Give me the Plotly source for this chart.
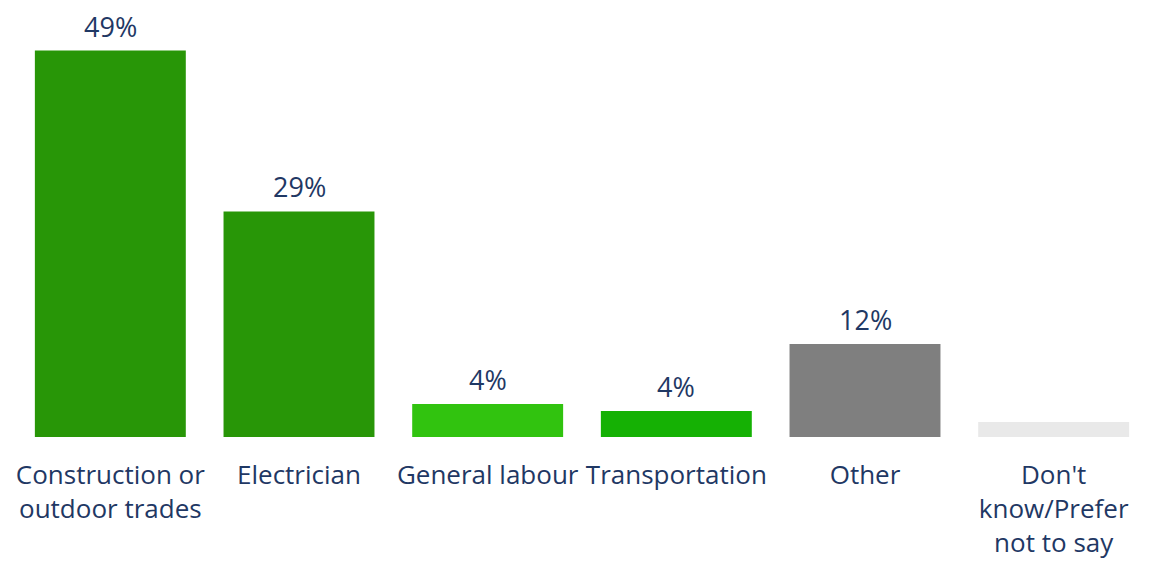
import plotly.graph_objects as go

categories = ["Construction or<br>outdoor trades", "Electrician", "General labour",
              "Transportation", "Other", "Don't<br>know/Prefer<br>not to say"]
values = [49, 28.6, 4.2, 3.3, 11.8, 1.9]
labels = ["49%", "29%", "4%", "4%", "12%", ""]
colors = ["#289607", "#289607", "#31C30F", "#15B104", "#7F7F7F", "#E9E9E9"]

navy = "#1F3864"
fig = go.Figure()
fig.add_trace(go.Bar(x=categories, y=values, marker=dict(color=colors, line=dict(width=0)),
                     hoverinfo="skip"))
for c, v, t in zip(categories, values, labels):
    if t:
        fig.add_annotation(x=c, y=v, text=t, showarrow=False, yanchor="bottom",
                           yshift=5, borderpad=0,
                           font=dict(family="Open Sans", size=27, color=navy))

fig.update_layout(
    width=1148, height=555,
    margin=dict(l=8, r=8, t=0, b=126),
    paper_bgcolor="white", plot_bgcolor="white",
    bargap=0.2, showlegend=False,
    xaxis=dict(showgrid=False, zeroline=False, showline=False, ticks="",
               ticklabelstandoff=20,
               tickfont=dict(family="Open Sans", size=26, color=navy)),
    yaxis=dict(visible=False, range=[0, 54.4]),
)
fig.write_html("out.html")
